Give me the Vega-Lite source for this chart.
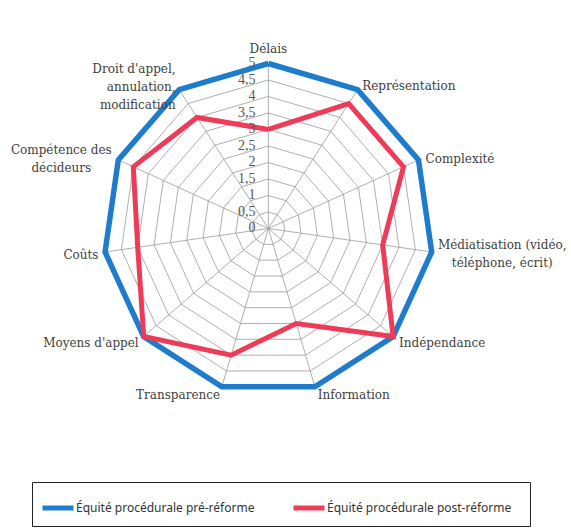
{
  "$schema": "https://vega.github.io/schema/vega-lite/v6.json",
  "width": 571,
  "height": 531,
  "autosize": {"type": "none"},
  "padding": 0,
  "background": "white",
  "config": {
    "view": {"stroke": null},
    "legend": {
      "orient": "none",
      "legendX": 32,
      "legendY": 482,
      "direction": "horizontal",
      "strokeColor": "#222",
      "padding": 8,
      "symbolType": "stroke",
      "symbolSize": 961,
      "symbolStrokeWidth": 5,
      "labelFont": "Noto Sans",
      "labelFontSize": 12,
      "labelColor": "#333",
      "labelOffset": 0,
      "labelLimit": 400,
      "columnPadding": 28,
      "titleOrient": "right",
      "titlePadding": 11,
      "titleFontSize": 6
    }
  },
  "datasets": {
    "axes": [
      {"i": 0, "cat": "Délais", "pre": 5, "post": 3},
      {"i": 1, "cat": "Représentation", "pre": 5, "post": 4.5},
      {"i": 2, "cat": "Complexité", "pre": 5, "post": 4.5},
      {"i": 3, "cat": "Médiatisation (vidéo,\ntéléphone, écrit)", "pre": 5, "post": 3.5},
      {"i": 4, "cat": "Indépendance", "pre": 5, "post": 5},
      {"i": 5, "cat": "Information", "pre": 5, "post": 3},
      {"i": 6, "cat": "Transparence", "pre": 5, "post": 4},
      {"i": 7, "cat": "Moyens d'appel", "pre": 5, "post": 5},
      {"i": 8, "cat": "Coûts", "pre": 5, "post": 4},
      {"i": 9, "cat": "Compétence des\ndécideurs", "pre": 5, "post": 4.5},
      {"i": 10, "cat": "Droit d'appel,\nannulation,\nmodification", "pre": 5, "post": 4},
      {"i": 11, "cat": "Délais", "pre": 5, "post": 3}
    ],
    "rings": [
      {"level": 0.5, "i": [0,1,2,3,4,5,6,7,8,9,10,11]},
      {"level": 1, "i": [0,1,2,3,4,5,6,7,8,9,10,11]},
      {"level": 1.5, "i": [0,1,2,3,4,5,6,7,8,9,10,11]},
      {"level": 2, "i": [0,1,2,3,4,5,6,7,8,9,10,11]},
      {"level": 2.5, "i": [0,1,2,3,4,5,6,7,8,9,10,11]},
      {"level": 3, "i": [0,1,2,3,4,5,6,7,8,9,10,11]},
      {"level": 3.5, "i": [0,1,2,3,4,5,6,7,8,9,10,11]},
      {"level": 4, "i": [0,1,2,3,4,5,6,7,8,9,10,11]},
      {"level": 4.5, "i": [0,1,2,3,4,5,6,7,8,9,10,11]},
      {"level": 5, "i": [0,1,2,3,4,5,6,7,8,9,10,11]}
    ],
    "ticks": [
      {"v": 0, "t": "0"}, {"v": 0.5, "t": "0,5"}, {"v": 1, "t": "1"},
      {"v": 1.5, "t": "1,5"}, {"v": 2, "t": "2"}, {"v": 2.5, "t": "2,5"},
      {"v": 3, "t": "3"}, {"v": 3.5, "t": "3,5"}, {"v": 4, "t": "4"},
      {"v": 4.5, "t": "4,5"}, {"v": 5, "t": "5"}
    ]
  },
  "layer": [
    {
      "data": {"name": "rings"},
      "transform": [
        {"flatten": ["i"]},
        {"calculate": "datum.i * 2 * PI / 11", "as": "a"},
        {"calculate": "datum.level * sin(datum.a)", "as": "x"},
        {"calculate": "datum.level * cos(datum.a)", "as": "y"}
      ],
      "mark": {"type": "line", "stroke": "#9a9a9a", "strokeWidth": 0.8},
      "encoding": {
        "x": {"field": "x", "type": "quantitative", "scale": {"domain": [-8.133, 9.17], "nice": false, "zero": false}, "axis": null},
        "y": {"field": "y", "type": "quantitative", "scale": {"domain": [-9.167, 6.924], "nice": false, "zero": false}, "axis": null},
        "detail": {"field": "level", "type": "nominal"},
        "order": {"field": "i", "type": "quantitative"}
      }
    },
    {
      "data": {"name": "axes"},
      "transform": [
        {"filter": "datum.i < 11"},
        {"calculate": "datum.i * 2 * PI / 11", "as": "a"},
        {"calculate": "5 * sin(datum.a)", "as": "x"},
        {"calculate": "5 * cos(datum.a)", "as": "y"},
        {"calculate": "0", "as": "x0"}
      ],
      "mark": {"type": "rule", "stroke": "#9a9a9a", "strokeWidth": 0.8},
      "encoding": {
        "x": {"field": "x0", "type": "quantitative"},
        "y": {"field": "x0", "type": "quantitative"},
        "x2": {"field": "x"},
        "y2": {"field": "y"}
      }
    },
    {
      "data": {"name": "axes"},
      "transform": [
        {"calculate": "datum.i * 2 * PI / 11", "as": "a"},
        {"calculate": "datum.pre * sin(datum.a)", "as": "x"},
        {"calculate": "datum.pre * cos(datum.a)", "as": "y"},
        {"calculate": "'Équité procédurale pré-réforme'", "as": "s"}
      ],
      "mark": {"type": "line", "strokeWidth": 5.5, "strokeJoin": "miter"},
      "encoding": {
        "x": {"field": "x", "type": "quantitative"},
        "y": {"field": "y", "type": "quantitative"},
        "order": {"field": "i", "type": "quantitative"},
        "color": {
          "field": "s",
          "type": "nominal",
          "scale": {
            "domain": ["Équité procédurale pré-réforme", "Équité procédurale post-réforme"],
            "range": ["#1f7bcc", "#ee3b58"]
          },
          "legend": {"title": " "}
        }
      }
    },
    {
      "data": {"name": "axes"},
      "transform": [
        {"calculate": "datum.i * 2 * PI / 11", "as": "a"},
        {"calculate": "datum.post * sin(datum.a)", "as": "x"},
        {"calculate": "datum.post * cos(datum.a)", "as": "y"},
        {"calculate": "'Équité procédurale post-réforme'", "as": "s"}
      ],
      "mark": {"type": "line", "strokeWidth": 5, "strokeJoin": "miter"},
      "encoding": {
        "x": {"field": "x", "type": "quantitative"},
        "y": {"field": "y", "type": "quantitative"},
        "order": {"field": "i", "type": "quantitative"},
        "color": {"field": "s", "type": "nominal"}
      }
    },
    {
      "data": {"name": "ticks"},
      "transform": [{"calculate": "0", "as": "x0"}],
      "mark": {"type": "text", "align": "right", "baseline": "middle", "dx": -13, "font": "Liberation Serif", "fontSize": 14, "fill": "#555555"},
      "encoding": {
        "x": {"field": "x0", "type": "quantitative"},
        "y": {"field": "v", "type": "quantitative"},
        "text": {"field": "t", "type": "nominal"}
      }
    },
    {
      "data": {"name": "axes"},
      "transform": [
        {"filter": "datum.i == 1 || datum.i == 2 || datum.i == 4 || datum.i == 5"},
        {"calculate": "datum.i * 2 * PI / 11", "as": "a"},
        {"calculate": "5.2 * sin(datum.a)", "as": "x"},
        {"calculate": "5.2 * cos(datum.a)", "as": "y"}
      ],
      "mark": {"type": "text", "align": "left", "baseline": "middle", "dx": 1, "dy": 2, "font": "DejaVu Serif", "fontSize": 12, "fill": "#404040"},
      "encoding": {
        "x": {"field": "x", "type": "quantitative"},
        "y": {"field": "y", "type": "quantitative"},
        "text": {"field": "cat", "type": "nominal"}
      }
    },
    {
      "data": {"name": "axes"},
      "transform": [
        {"filter": "datum.i == 3"},
        {"calculate": "datum.i * 2 * PI / 11", "as": "a"},
        {"calculate": "5.2 * sin(datum.a)", "as": "x"},
        {"calculate": "5.2 * cos(datum.a)", "as": "y"}
      ],
      "mark": {"type": "text", "align": "center", "baseline": "middle", "dx": 64, "dy": -8, "lineBreak": "\n", "lineHeight": 18, "font": "DejaVu Serif", "fontSize": 12, "fill": "#404040"},
      "encoding": {
        "x": {"field": "x", "type": "quantitative"},
        "y": {"field": "y", "type": "quantitative"},
        "text": {"field": "cat", "type": "nominal"}
      }
    },
    {
      "data": {"name": "axes"},
      "transform": [
        {"filter": "datum.i >= 6 && datum.i <= 8"},
        {"calculate": "datum.i * 2 * PI / 11", "as": "a"},
        {"calculate": "5.2 * sin(datum.a)", "as": "x"},
        {"calculate": "5.2 * cos(datum.a)", "as": "y"}
      ],
      "mark": {"type": "text", "align": "right", "baseline": "middle", "dy": 2, "font": "DejaVu Serif", "fontSize": 12, "fill": "#404040"},
      "encoding": {
        "x": {"field": "x", "type": "quantitative"},
        "y": {"field": "y", "type": "quantitative"},
        "text": {"field": "cat", "type": "nominal"}
      }
    },
    {
      "data": {"name": "axes"},
      "transform": [
        {"filter": "datum.i == 9"},
        {"calculate": "datum.i * 2 * PI / 11", "as": "a"},
        {"calculate": "5.2 * sin(datum.a)", "as": "x"},
        {"calculate": "5.2 * cos(datum.a)", "as": "y"}
      ],
      "mark": {"type": "text", "align": "center", "baseline": "middle", "dx": -51, "dy": -7, "lineBreak": "\n", "lineHeight": 18, "font": "DejaVu Serif", "fontSize": 12, "fill": "#404040"},
      "encoding": {
        "x": {"field": "x", "type": "quantitative"},
        "y": {"field": "y", "type": "quantitative"},
        "text": {"field": "cat", "type": "nominal"}
      }
    },
    {
      "data": {"name": "axes"},
      "transform": [
        {"filter": "datum.i == 10"},
        {"calculate": "datum.i * 2 * PI / 11", "as": "a"},
        {"calculate": "5.2 * sin(datum.a)", "as": "x"},
        {"calculate": "5.2 * cos(datum.a)", "as": "y"}
      ],
      "mark": {"type": "text", "align": "right", "baseline": "middle", "dy": -15, "lineBreak": "\n", "lineHeight": 18, "font": "DejaVu Serif", "fontSize": 12, "fill": "#404040"},
      "encoding": {
        "x": {"field": "x", "type": "quantitative"},
        "y": {"field": "y", "type": "quantitative"},
        "text": {"field": "cat", "type": "nominal"}
      }
    },
    {
      "data": {"name": "axes"},
      "transform": [
        {"filter": "datum.i == 0"},
        {"calculate": "0", "as": "x"},
        {"calculate": "5.2", "as": "y"}
      ],
      "mark": {"type": "text", "align": "center", "baseline": "bottom", "dy": -1, "font": "DejaVu Serif", "fontSize": 12, "fill": "#404040"},
      "encoding": {
        "x": {"field": "x", "type": "quantitative"},
        "y": {"field": "y", "type": "quantitative"},
        "text": {"field": "cat", "type": "nominal"}
      }
    }
  ]
}
